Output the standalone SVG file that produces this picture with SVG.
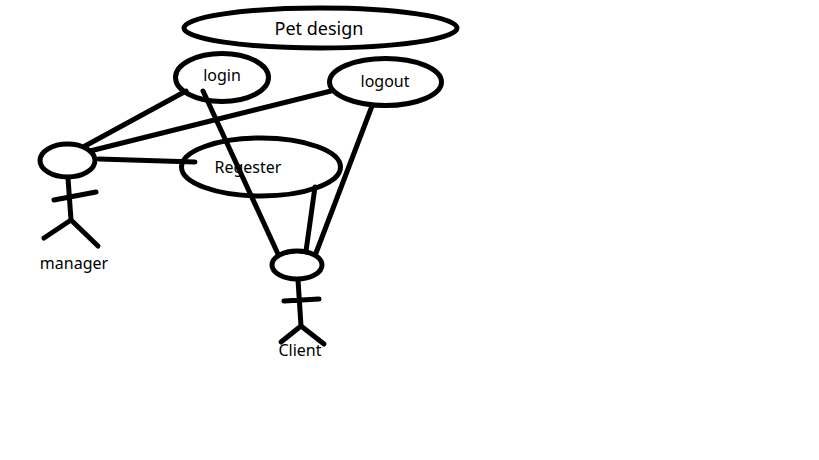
<svg xmlns="http://www.w3.org/2000/svg" width="819" height="460" viewBox="0 0 819 460">
<style>
.s{fill:none;stroke:#000;stroke-width:5;stroke-linecap:round;stroke-linejoin:round}
.t{font-family:"Noto Sans","Open Sans",sans-serif;fill:#000}
</style>
<rect width="819" height="460" fill="#fff"/>
<g id="title"><ellipse class="s" cx="320.500" cy="28" rx="136.500" ry="20"/><text class="t" x="319" y="35" font-size="18" text-anchor="middle">Pet design</text></g>
<g id="login"><ellipse class="s" cx="222" cy="77.500" rx="46.500" ry="24"/><text class="t" x="222" y="81" font-size="16" text-anchor="middle">login</text></g>
<g id="logout"><ellipse class="s" cx="385.500" cy="82" rx="56" ry="23.500"/><text class="t" x="385" y="87" font-size="16" text-anchor="middle">logout</text></g>
<g id="regester"><ellipse class="s" cx="261" cy="167" rx="79.500" ry="29"/><text class="t" x="248" y="173" font-size="16" text-anchor="middle">Regester</text></g>
<g id="manager"><ellipse class="s" cx="67.500" cy="160.500" rx="27.500" ry="16.500"/><path class="s" d="M68 178L71 220M54 200L96 192M71 220L44 238M71 220L98 246"/><text class="t" x="74" y="269" font-size="16" text-anchor="middle">manager</text></g>
<g id="client"><ellipse class="s" cx="297" cy="265" rx="25" ry="14"/><path class="s" d="M298 280L301 326M284 301L319 299M301 326L281 342M301 326L324 344"/><text class="t" x="300" y="356" font-size="16" text-anchor="middle">Client</text></g>
<g id="connectors"><path class="s" d="M85 146L186 91M90 151L331 91M99 159L195 162M203 91L278 254M315 187L306 251M372 106L316 253"/></g>
</svg>
